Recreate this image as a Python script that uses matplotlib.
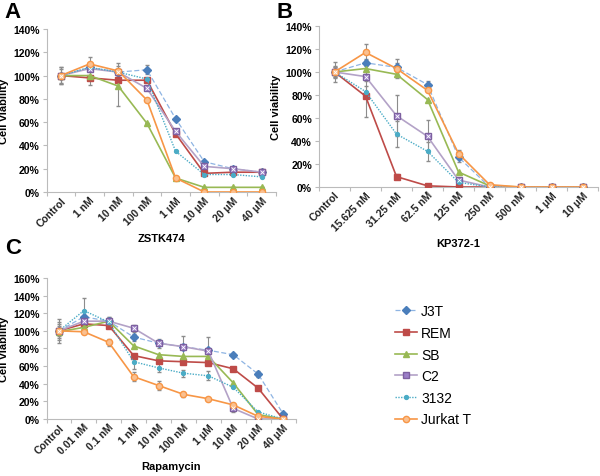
import numpy as np
import matplotlib
matplotlib.use("Agg")
import matplotlib.pyplot as plt
from matplotlib.ticker import FuncFormatter
from matplotlib.lines import Line2D

plt.rcParams['font.family'] = ['Liberation Sans', 'DejaVu Sans']

series = ["J3T", "REM", "SB", "C2", "3132", "Jurkat T"]

# panel A - ZSTK474
cats_a = ["Control", "1 nM", "10 nM", "100 nM", "1 μM", "10 μM", "20 μM", "40 μM"]
a_j3t = [100, 107, 103, 105, 63, 26, 20, 17]
a_rem = [100, 98, 96, 96, 50, 16, 17, 17]
a_sb = [100, 100, 91, 59, 12, 4, 4, 4]
a_c2 = [100, 106, 103, 89, 52, 22, 20, 17]
a_3132 = [100, 107, 103, 97, 35, 15, 15, 13]
a_jur = [100, 110, 104, 79, 12, 0, 0, 0]
a_err_j3t = [7, 3, 3, 4, 0, 0, 0, 0]
a_err_sb = [7, 8, 17, 0, 0, 0, 0, 0]
a_err_jur = [6, 6, 7, 0, 0, 0, 0, 0]

# panel B - KP372-1
cats_b = ["Control", "15.625 nM", "31.25 nM", "62.5 nM", "125 nM", "250 nM", "500 nM", "1 μM", "10 μM"]
b_j3t = [100, 108, 104, 89, 26, 0, 0, 0, 0]
b_rem = [100, 79, 9, 1, 0, 0, 0, 0, 0]
b_sb = [100, 103, 98, 76, 13, 1, 0, 0, 0]
b_c2 = [100, 96, 62, 44, 6, 0, 0, 0, 0]
b_3132 = [100, 83, 46, 31, 4, 0, 0, 0, 0]
b_jur = [100, 117, 103, 84, 29, 2, 0, 0, 0]
b_err_j3t = [9, 3, 4, 3, 4, 0, 0, 0, 0]
b_err_rem = [5, 18, 2, 0, 0, 0, 0, 0, 0]
b_err_c2 = [4, 4, 18, 14, 0, 0, 0, 0, 0]
b_err_3132 = [3, 5, 11, 8, 0, 0, 0, 0, 0]
b_err_jur = [4, 7, 8, 0, 3, 0, 0, 0, 0]

# panel C - Rapamycin
cats_c = ["Control", "0.01 nM", "0.1 nM", "1 nM", "10 nM", "100 nM", "1 μM", "10 μM", "20 μM", "40 μM"]
c_j3t = [100, 116, 111, 93, 86, 82, 78, 73, 51, 6]
c_rem = [100, 108, 106, 72, 66, 65, 64, 57, 35, 0]
c_sb = [99, 104, 111, 83, 73, 71, 71, 41, 5, 0]
c_c2 = [100, 111, 111, 103, 86, 82, 77, 12, 0, 0]
c_3132 = [100, 123, 110, 65, 58, 52, 49, 36, 8, 0]
c_jur = [100, 99, 87, 48, 38, 28, 23, 16, 3, 0]
c_err_j3t = [14, 6, 5, 4, 0, 0, 0, 0, 3, 0]
c_err_c2 = [10, 5, 5, 4, 5, 12, 16, 4, 0, 0]
c_err_3132 = [8, 14, 5, 8, 5, 4, 5, 0, 0, 0]
c_err_jur = [6, 0, 4, 5, 5, 3, 0, 0, 0, 0]

styles = {
    "J3T": dict(color="#8eb4e3", ls=(0, (4, 2)), lw=0.9, marker="D", ms=4, mfc="#4a7ebb", mec="#4a7ebb"),
    "REM": dict(color="#be4b48", ls="-", lw=1.2, marker="s", ms=4, mfc="#be4b48", mec="#be4b48"),
    "SB": dict(color="#98b954", ls="-", lw=1.2, marker="^", ms=4.5, mfc="#98b954", mec="#98b954"),
    "C2": dict(color="#b3a2c7", ls="-", lw=1.2, marker="s", ms=4.5, mfc="#9b7ec8", mec="#7d60a0"),
    "3132": dict(color="#4bacc6", ls=(0, (1, 1)), lw=1.0, marker="o", ms=2.8, mfc="#4bacc6", mec="#4bacc6"),
    "Jurkat T": dict(color="#f79646", ls="-", lw=1.2, marker="o", ms=4.5, mfc="#fac090", mec="#f79646"),
}


def draw(ax, cats, data, errs, ymax, xlabel):
    x = np.arange(len(cats))
    for name, y, e in zip(series, data, errs):
        if e is not None:
            ax.errorbar(x, y, yerr=e, fmt="none", ecolor="#8c8c8c", elinewidth=0.8, capsize=1.5, zorder=1)
    for name, y in zip(series, data):
        ax.plot(x, y, zorder=3, **styles[name])
        if name == "C2":
            ax.plot(x, y, ls="none", marker="x", ms=2.8, mew=0.6, color="white", zorder=4)
    ax.set_xlim(-0.5, len(cats) - 0.5)
    ax.set_ylim(0, ymax)
    ax.set_yticks(np.arange(0, ymax + 1, 20))
    ax.yaxis.set_major_formatter(FuncFormatter(lambda v, p: "%d%%" % v))
    ax.set_xticks(np.arange(len(cats) + 1) - 0.5, minor=False)
    ax.set_xticks(x, minor=True)
    ax.set_xticklabels([])
    ax.set_xticklabels(cats, minor=True, rotation=45, ha="right", rotation_mode="anchor",
                       fontsize=7.5, fontweight="bold", color="#222222")
    ax.tick_params(axis="x", which="minor", length=0, pad=2)
    ax.tick_params(axis="x", which="major", length=3, color="#bbbbbb")
    ax.tick_params(axis="y", length=3, color="#bbbbbb", labelsize=7.5, pad=2)
    for t in ax.get_yticklabels():
        t.set_fontweight("bold")
    for s in ["top", "right"]:
        ax.spines[s].set_visible(False)
    for s in ["left", "bottom"]:
        ax.spines[s].set_color("#bbbbbb")
    ax.set_ylabel("Cell viability", fontsize=8, fontweight="bold", labelpad=3)
    ax.set_xlabel(xlabel, fontsize=8, fontweight="bold", labelpad=4)


fig = plt.figure(figsize=(6, 4.77), dpi=100)

ax_a = fig.add_axes([0.0775, 0.5954, 0.3825, 0.3417])
draw(ax_a, cats_a, [a_j3t, a_rem, a_sb, a_c2, a_3132, a_jur],
     [a_err_j3t, None, a_err_sb, None, None, a_err_jur], 140, "ZSTK474")

ax_b = fig.add_axes([0.5317, 0.6059, 0.465, 0.3375])
draw(ax_b, cats_b, [b_j3t, b_rem, b_sb, b_c2, b_3132, b_jur],
     [b_err_j3t, b_err_rem, None, b_err_c2, b_err_3132, b_err_jur], 140, "KP372-1")

ax_c = fig.add_axes([0.0775, 0.1195, 0.415, 0.2956])
draw(ax_c, cats_c, [c_j3t, c_rem, c_sb, c_c2, c_3132, c_jur],
     [c_err_j3t, None, None, c_err_c2, c_err_3132, c_err_jur], 160, "Rapamycin")

fig.text(0.008, 0.974, "A", fontsize=16, fontweight="bold", va="center")
fig.text(0.46, 0.974, "B", fontsize=16, fontweight="bold", va="center")
fig.text(0.008, 0.48, "C", fontsize=16, fontweight="bold", va="center")

handles = [Line2D([], [], **styles[n]) for n in series]
fig.legend(handles, series, loc="upper left", bbox_to_anchor=(0.658, 0.36), frameon=False,
           fontsize=10, handlelength=1.6, handletextpad=0.3, labelspacing=0.55,
           borderaxespad=0, borderpad=0)

fig.savefig("out.png", dpi=100)
